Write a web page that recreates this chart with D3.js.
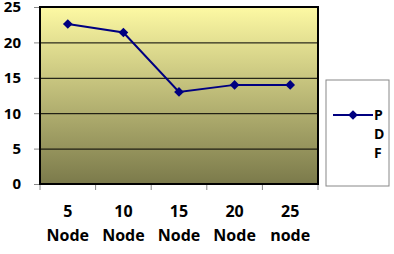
<!DOCTYPE html>
<html>
<head>
<meta charset="utf-8">
<script src="https://cdn.jsdelivr.net/npm/d3@7"></script>
<style>
  body { margin: 0; background: #ffffff; }
  text { font-family: "Open Sans", "Noto Sans", sans-serif; font-weight: bold; }
</style>
</head>
<body>
<svg id="chart" width="394" height="254"></svg>
<script>
// Chart data
const categories = ["5 Node", "10 Node", "15 Node", "20 Node", "25 node"];
const pdfValues = [22.6, 21.4, 13.0, 14.0, 14.0];
const yTicks = [0, 5, 10, 15, 20, 25];
const seriesName = "PDF";

const svg = d3.select('#chart');

// Plot area
const margin = { top: 7, right: 76, bottom: 70, left: 40 };
const width = 394 - margin.left - margin.right;
const height = 254 - margin.top - margin.bottom;

const g = svg.append('g')
    .attr('transform', `translate(${margin.left},${margin.top})`);

// Background gradient
const grad = svg.append('defs').append('linearGradient')
    .attr('id', 'bg').attr('x1', '0%').attr('y1', '0%').attr('x2', '0%').attr('y2', '100%');
grad.append('stop').attr('offset', '0%').attr('stop-color', '#fdf9a3');
grad.append('stop').attr('offset', '100%').attr('stop-color', '#7b7a4b');

const x = d3.scaleBand()
    .domain(categories)
    .range([0, width]);

const y = d3.scaleLinear()
    .domain([0, 25])
    .range([height, 0]);

g.append('rect')
    .attr('width', width)
    .attr('height', height)
    .attr('fill', 'url(#bg)');

// Grid lines
g.append('g')
    .call(d3.axisLeft(y).tickValues(yTicks).tickSize(-width).tickFormat(''))
    .call(a => a.select('.domain').remove())
    .selectAll('.tick line')
    .attr('stroke', '#000000')
    .attr('stroke-width', 1);

// Y axis
g.append('g')
    .call(d3.axisLeft(y).tickValues(yTicks).tickSize(6).tickPadding(13))
    .call(a => a.select('.domain').remove())
    .call(a => a.selectAll('.tick line').attr('stroke', '#888888'))
    .selectAll('text')
    .style('font-size', '15px')
    .attr('fill', '#000000');

// X axis ticks at band edges
const edges = categories.map(c => x(c)).concat([width]);
g.append('g')
    .selectAll('line')
    .data(edges)
    .enter().append('line')
    .attr('x1', d => d).attr('x2', d => d)
    .attr('y1', height).attr('y2', height + 6)
    .attr('stroke', '#888888');

// X labels (two lines)
const xl = g.append('g')
    .selectAll('text')
    .data(categories)
    .enter().append('text')
    .attr('x', d => x(d) + x.bandwidth() / 2)
    .attr('text-anchor', 'middle')
    .style('font-size', '16px')
    .attr('fill', '#000000');
xl.append('tspan')
    .attr('x', d => x(d) + x.bandwidth() / 2)
    .attr('y', height + 33)
    .text(d => d.split(' ')[0]);
xl.append('tspan')
    .attr('x', d => x(d) + x.bandwidth() / 2)
    .attr('y', height + 57)
    .text(d => d.split(' ')[1]);

// Plot border
g.append('rect')
    .attr('width', width)
    .attr('height', height)
    .attr('fill', 'none')
    .attr('stroke', '#000000')
    .attr('stroke-width', 2);

// Line
const line = d3.line()
    .x((d, i) => x(categories[i]) + x.bandwidth() / 2)
    .y(d => y(d));

g.append('path')
    .datum(pdfValues)
    .attr('fill', 'none')
    .attr('stroke', '#000080')
    .attr('stroke-width', 2)
    .attr('d', line);

const diamond = d3.symbol().type(d3.symbolDiamond2).size(60);
g.selectAll('.pt')
    .data(pdfValues)
    .enter().append('path')
    .attr('class', 'pt')
    .attr('d', diamond)
    .attr('transform', (d, i) => `translate(${x(categories[i]) + x.bandwidth() / 2},${y(d)})`)
    .attr('fill', '#000080');

// Legend
const lg = svg.append('g');
lg.append('rect')
    .attr('x', 326).attr('y', 80)
    .attr('width', 63).attr('height', 106)
    .attr('fill', '#ffffff')
    .attr('stroke', '#888888');
lg.append('line')
    .attr('x1', 333).attr('x2', 373)
    .attr('y1', 115).attr('y2', 115)
    .attr('stroke', '#000080').attr('stroke-width', 2);
lg.append('path')
    .attr('d', diamond)
    .attr('transform', 'translate(353,115)')
    .attr('fill', '#000080');
lg.selectAll('.lt')
    .data(seriesName.split(''))
    .enter().append('text')
    .attr('class', 'lt')
    .attr('x', 374)
    .attr('y', (d, i) => 120 + i * 19)
    .style('font-size', '14px')
    .attr('fill', '#000000')
    .text(d => d);
</script>
</body>
</html>
